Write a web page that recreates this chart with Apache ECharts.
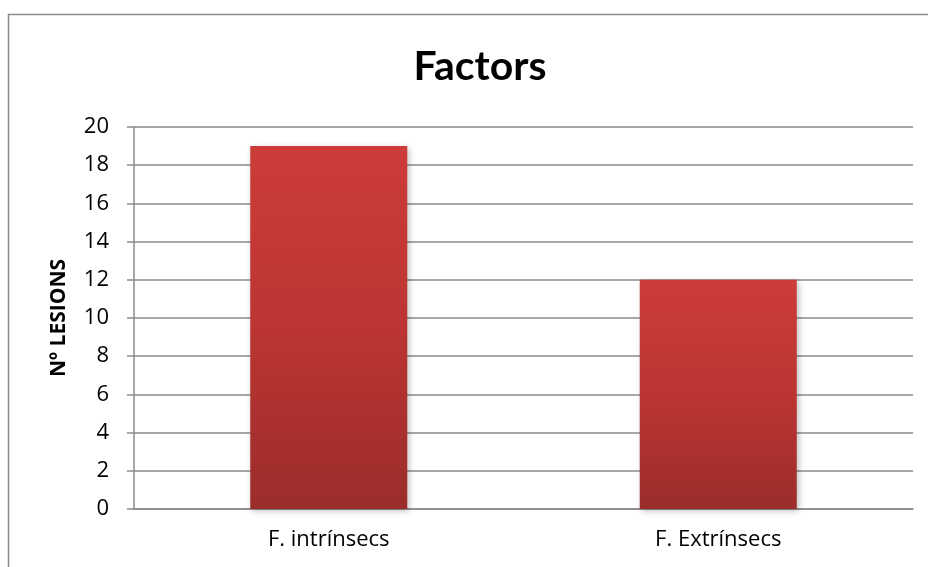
<!DOCTYPE html>
<html>
<head>
<meta charset="utf-8">
<script src="https://cdn.jsdelivr.net/npm/echarts@6/dist/echarts.min.js"></script>
<style>
html,body{margin:0;padding:0;background:#fff;}
#c{width:928px;height:567px;}
</style>
</head>
<body>
<div id="c"></div>
<script>
const categories = ['F. intrínsecs', 'F. Extrínsecs'];
const values = [19, 12];
const yTicks = { min: 0, max: 20, interval: 2 };
const titleText = 'Factors';
const yName = 'Nº LESIONS';

const chart = echarts.init(document.getElementById('c'), null, { renderer: 'canvas' });
const font = '"Open Sans", Lato, sans-serif';
const tfont = 'Lato, "Open Sans", sans-serif';
chart.setOption({
  animation: false,
  backgroundColor: '#fff',
  title: {
    text: titleText,
    left: 475, top: 41, textAlign: 'center',
    textStyle: { fontFamily: tfont, fontWeight: 'bold', fontSize: 41, color: '#000' }
  },
  graphic: [{
    type: 'rect', silent: true,
    shape: { x: 8.5, y: 14.5, width: 1000, height: 1000 },
    style: { fill: 'none', stroke: '#8a8a8a', lineWidth: 1.5 }
  }],
  grid: { left: 134, right: 15, top: 127, bottom: 58 },
  xAxis: {
    type: 'category',
    data: categories,
    axisLine: { show: true, lineStyle: { color: '#8a8a8a', width: 1.5 } },
    axisTick: { show: false },
    axisLabel: { fontFamily: font, fontSize: 22, color: '#000', margin: 20 }
  },
  yAxis: {
    type: 'value',
    min: yTicks.min, max: yTicks.max, interval: yTicks.interval,
    name: yName,
    nameLocation: 'middle',
    nameGap: 64,
    nameRotate: 90,
    nameTextStyle: { fontFamily: font, fontWeight: 'bold', fontSize: 21, color: '#000' },
    axisLine: { show: true, lineStyle: { color: '#8a8a8a', width: 1.5 } },
    axisTick: { show: true, length: 7, lineStyle: { color: '#8a8a8a', width: 1.5 } },
    splitLine: { show: true, lineStyle: { color: '#8a8a8a', width: 1.5 } },
    axisLabel: { fontFamily: font, fontSize: 22, color: '#000', margin: 25 }
  },
  series: [{
    type: 'bar',
    data: values,
    barWidth: 157,
    itemStyle: {
      color: new echarts.graphic.LinearGradient(0, 0, 0, 1, [
        { offset: 0, color: '#cd3c38' },
        { offset: 0.5, color: '#bb3532' },
        { offset: 1, color: '#9b2d2b' }
      ]),
      shadowBlur: 6,
      shadowColor: 'rgba(0,0,0,0.25)',
      shadowOffsetX: 2,
      shadowOffsetY: 2
    }
  }]
});
</script>
</body>
</html>
